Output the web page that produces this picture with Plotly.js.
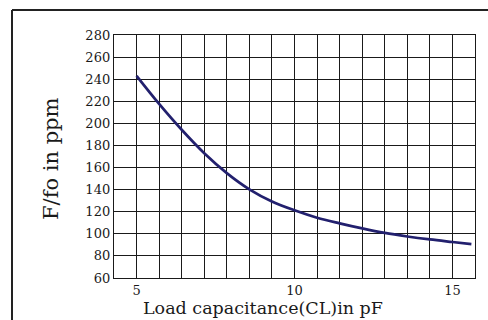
<!DOCTYPE html>
<html>
<head>
<meta charset="utf-8">
<script src="https://cdn.plot.ly/plotly-3.0.1.min.js"></script>
<style>html,body{margin:0;padding:0;background:#fff;}#chart{width:488px;height:320px;}</style>
</head>
<body>
<div id="chart"></div>
<script>
// Data (values at the grid columns)
const loadCapacitance = [5, 5.714, 6.429, 7.143, 7.857, 8.571, 9.286, 10, 10.714, 11.429, 12.143, 12.857, 13.571, 14.286, 15, 15.6];
const pullingPpm     = [243, 217.6, 194.2, 173, 155, 140.3, 129.3, 121.3, 114.6, 109.5, 104.9, 100.8, 97.6, 94.9, 92.6, 90.7];
const xTickVals = [5, 10, 15];
const xTickText = ['5', '10', '15'];
const yTickVals = [60, 80, 100, 120, 140, 160, 180, 200, 220, 240, 260, 280];

const W = 488, H = 320;
const M = {l: 114, r: 13, t: 35, b: 42};
const pw = W - M.l - M.r, ph = H - M.t - M.b;
const px = v => (v - M.l) / pw;        // pixel -> paper x
const py = v => 1 - (v - M.t) / ph;    // pixel -> paper y

const font = 'DejaVu Serif, Liberation Serif, serif';
const gridColor = '#1a1a1a';

const trace = {
  x: loadCapacitance, y: pullingPpm,
  type: 'scatter', mode: 'lines',
  line: {color: '#22206e', width: 2.7, shape: 'spline', smoothing: 1},
  hoverinfo: 'skip'
};

const layout = {
  width: W, height: H,
  margin: M,
  paper_bgcolor: '#fff', plot_bgcolor: '#fff',
  showlegend: false,
  font: {family: font, size: 13, color: '#1a1a1a'},
  xaxis: {
    range: [5 - 5/7, 15 + 5/7],
    tickmode: 'array', tickvals: xTickVals, ticktext: xTickText,
    showgrid: true, gridcolor: gridColor, gridwidth: 1,
    minor: {tick0: 5, dtick: 5/7, showgrid: true, gridcolor: gridColor, gridwidth: 1},
    showline: true, linecolor: gridColor, linewidth: 1.2, mirror: true,
    ticks: '', ticklen: 0, zeroline: false,
    tickfont: {family: font, size: 13, color: '#1a1a1a'}
  },
  yaxis: {
    range: [60, 280],
    tickmode: 'array', tickvals: yTickVals,
    showgrid: true, gridcolor: gridColor, gridwidth: 1,
    showline: true, linecolor: gridColor, linewidth: 1.2, mirror: true,
    ticks: '', ticklen: 0, zeroline: false,
    tickfont: {family: font, size: 13, color: '#1a1a1a'}
  },
  shapes: [
    {type: 'line', xref: 'paper', yref: 'paper', x0: px(12), x1: px(12), y0: py(10), y1: py(330), line: {color: '#222', width: 2}},
    {type: 'line', xref: 'paper', yref: 'paper', x0: px(12), x1: px(500), y0: py(10), y1: py(10), line: {color: '#222', width: 2}}
  ],
  annotations: [
    {text: 'Load capacitance(CL)in pF', xref: 'paper', yref: 'paper', x: px(263), y: py(308),
     xanchor: 'center', yanchor: 'middle', showarrow: false, font: {family: font, size: 17.5, color: '#1a1a1a'}},
    {text: 'F/fo in ppm', xref: 'paper', yref: 'paper', x: px(51), y: py(159), textangle: -90,
     xanchor: 'center', yanchor: 'middle', showarrow: false, font: {family: font, size: 21, color: '#1a1a1a'}}
  ]
};

Plotly.newPlot('chart', [trace], layout, {staticPlot: true, displayModeBar: false});
</script>
</body>
</html>
